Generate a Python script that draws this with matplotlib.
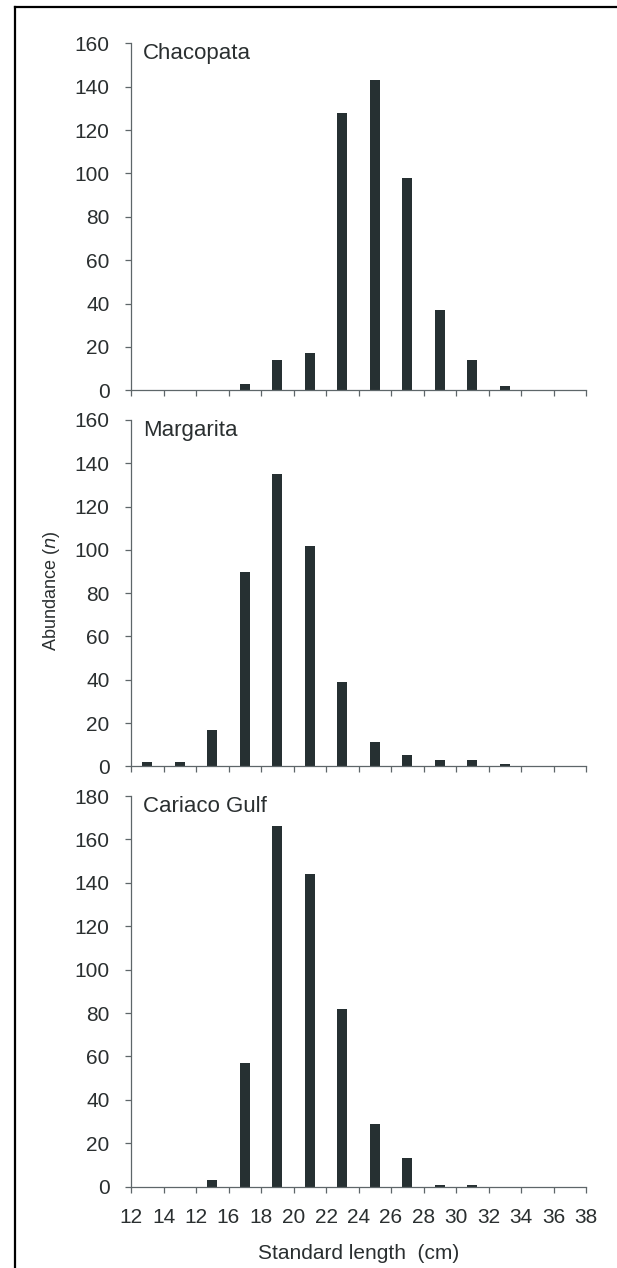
import matplotlib
matplotlib.use("Agg")
import matplotlib.pyplot as plt
from matplotlib.lines import Line2D
import numpy as np

plt.rcParams['font.family'] = ['Liberation Sans', 'DejaVu Sans']

# Tick labels (as printed in the original figure)
tick_labels = ["12", "14", "12", "16", "18", "20", "22", "24", "26", "28",
               "30", "32", "34", "36", "38"]

# Abundance per 2-cm length class (14 classes between the 15 ticks)
chacopata = [0, 0, 0, 3, 14, 17, 128, 143, 98, 37, 14, 2, 0, 0]
margarita = [2, 2, 17, 90, 135, 102, 39, 11, 5, 3, 3, 1, 0, 0]
cariaco = [0, 0, 3, 57, 166, 144, 82, 29, 13, 1, 1, 0, 0, 0]

panel_names = ["Chacopata", "Margarita", "Cariaco Gulf"]
panel_data = [chacopata, margarita, cariaco]
panel_ymax = [160, 160, 180]

W, H = 617, 1268
fig = plt.figure(figsize=(W / 100, H / 100), dpi=100)

bar_color = "#263032"
spine_color = "#5e6669"
text_color = "#2a2f30"

left = 131 / W
width = (586 - 131) / W
# (y of zero line, y of top) in pixels from top
rects = [(390.3, 43.3), (766.3, 420.0), (1186.7, 796.0)]

axes = []
for i, (name, data, ymax) in enumerate(zip(panel_names, panel_data, panel_ymax)):
    y0, y1 = rects[i]
    ax = fig.add_axes([left, 1 - y0 / H, width, (y0 - y1) / H])
    x = np.arange(len(data)) + 0.5
    ax.bar(x, data, width=0.32, color=bar_color, edgecolor="none")
    ax.set_xlim(0, len(tick_labels) - 1)
    ax.set_ylim(0, ymax)
    ax.set_yticks(np.arange(0, ymax + 1, 20))
    ax.set_xticks(np.arange(len(tick_labels)))
    if i == 2:
        ax.set_xticklabels(tick_labels)
    else:
        ax.set_xticklabels([])
    for s in ["top", "right"]:
        ax.spines[s].set_visible(False)
    for s in ["left", "bottom"]:
        ax.spines[s].set_color(spine_color)
        ax.spines[s].set_linewidth(0.9)
    ax.tick_params(axis="both", direction="out", length=4.5, width=0.9,
                   color=spine_color, labelsize=15, labelcolor=text_color)
    ax.tick_params(axis="y", pad=11)
    ax.tick_params(axis="x", pad=11)
    ax.text(0.026, 1.0, name, transform=ax.transAxes, ha="left", va="top",
            fontsize=16, color=text_color)
    axes.append(ax)

axes[2].set_xlabel("Standard length  (cm)", fontsize=15, color=text_color,
                   labelpad=12)
fig.text(52 / W, 1 - 591 / H, "Abundance ($\\mathit{n}$)", rotation=90,
         ha="center", va="center", fontsize=13, color=text_color)

# Frame lines (top and left)
fig.add_artist(Line2D([15.3 / W, 1.0], [1 - 7 / H, 1 - 7 / H],
                      transform=fig.transFigure, color="black", lw=1.6))
fig.add_artist(Line2D([15.3 / W, 15.3 / W], [1 - 7 / H, 0.0],
                      transform=fig.transFigure, color="black", lw=1.6))

fig.savefig("out.png", dpi=100, facecolor="white")
